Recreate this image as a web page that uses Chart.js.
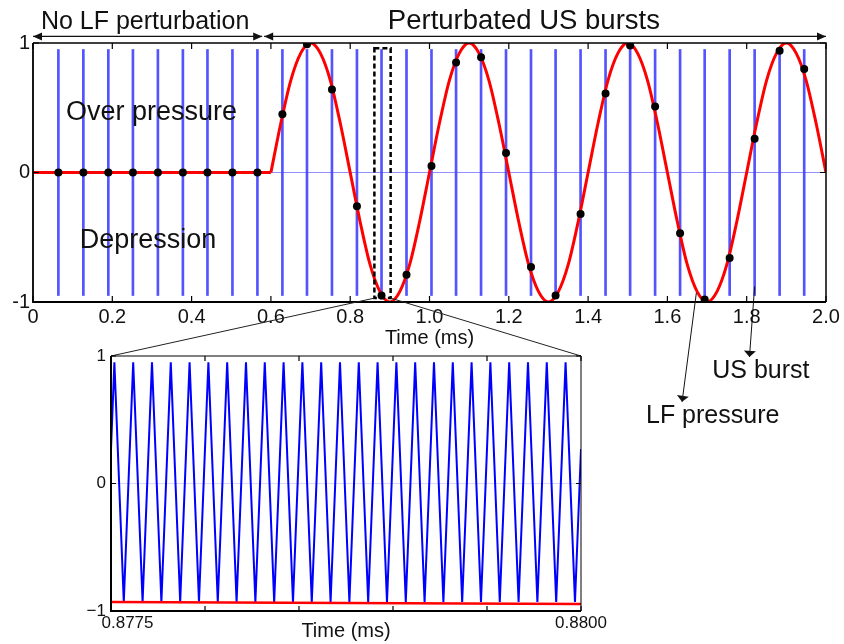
<!DOCTYPE html>
<html>
<head>
<meta charset="utf-8">
<script src="https://cdn.jsdelivr.net/npm/chart.js@4.4.1/dist/chart.umd.min.js"></script>
<style>
  html, body { margin: 0; padding: 0; background: #fff; }
  #wrap { position: relative; width: 844px; height: 644px; overflow: hidden; }
  #main { position: absolute; left: 0; top: 0; }
  #inset { position: absolute; left: 60px; top: 340px; }
</style>
</head>
<body>
<div id="wrap">
  <canvas id="main" width="844" height="644"></canvas>
  <canvas id="inset" width="570" height="304"></canvas>
</div>
<script>
// US burst instants (ms) and the LF pressure each burst sees
const burstTimes = [0.064, 0.127, 0.190, 0.252, 0.315, 0.378, 0.440, 0.503, 0.566,
  0.629, 0.691, 0.754, 0.817, 0.879, 0.942, 1.005, 1.067, 1.130, 1.193, 1.256,
  1.318, 1.381, 1.444, 1.506, 1.569, 1.632, 1.694, 1.757, 1.820, 1.883, 1.945];
const burstLevels = [0, 0, 0, 0, 0, 0, 0, 0, 0,
  0.45, 0.99, 0.64, -0.26, -0.95, -0.79, 0.05, 0.85, 0.89, 0.15, -0.73,
  -0.95, -0.32, 0.61, 0.98, 0.51, -0.47, -0.98, -0.66, 0.26, 0.94, 0.80];
const burstSpan = [-0.95, 0.95];

// LF pressure wave (ms, normalised)
const lfTime = [0, 0.6, 0.625, 0.65, 0.675, 0.7, 0.725, 0.75, 0.775, 0.8, 0.825, 0.85, 0.875,
  0.9, 0.925, 0.95, 0.975, 1.0, 1.025, 1.05, 1.075, 1.1, 1.125, 1.15, 1.175, 1.2, 1.225,
  1.25, 1.275, 1.3, 1.325, 1.35, 1.375, 1.4, 1.425, 1.45, 1.475, 1.5, 1.525, 1.55, 1.575,
  1.6, 1.625, 1.65, 1.675, 1.7, 1.725, 1.75, 1.775, 1.8, 1.825, 1.85, 1.875, 1.9, 1.925,
  1.95, 1.975, 2.0];
const lfPressure = [0, 0, 0.38, 0.71, 0.92, 1, 0.92, 0.71, 0.38, 0, -0.38, -0.71, -0.92,
  -1, -0.92, -0.71, -0.38, 0, 0.38, 0.71, 0.92, 1, 0.92, 0.71, 0.38, 0, -0.38,
  -0.71, -0.92, -1, -0.92, -0.71, -0.38, 0, 0.38, 0.71, 0.92, 1, 0.92, 0.71, 0.38,
  0, -0.38, -0.71, -0.92, -1, -0.92, -0.71, -0.38, 0, 0.38, 0.71, 0.92, 1, 0.92,
  0.71, 0.38, 0];

const mainXLabels = ['0', '0.2', '0.4', '0.6', '0.8', '1.0', '1.2', '1.4', '1.6', '1.8', '2.0'];
const mainYLabels = ['-1', '0', '1'];

// zoom on one burst: time in µs after 0.8775 ms
const insetTime = [0, 0.018, 0.068, 0.118, 0.168, 0.218, 0.268, 0.318, 0.368, 0.418, 0.468,
  0.518, 0.568, 0.618, 0.668, 0.718, 0.768, 0.818, 0.868, 0.918, 0.968, 1.018, 1.068,
  1.118, 1.168, 1.218, 1.268, 1.318, 1.368, 1.418, 1.468, 1.518, 1.568, 1.618, 1.668,
  1.718, 1.768, 1.818, 1.868, 1.918, 1.968, 2.018, 2.068, 2.118, 2.168, 2.218, 2.268,
  2.318, 2.368, 2.418, 2.468, 2.5];
const insetSignal = [0.27, 0.95, -0.93, 0.95, -0.93, 0.95, -0.93, 0.95, -0.93, 0.95, -0.93,
  0.95, -0.93, 0.95, -0.93, 0.95, -0.93, 0.95, -0.93, 0.95, -0.93, 0.95, -0.93,
  0.95, -0.93, 0.95, -0.93, 0.95, -0.93, 0.95, -0.93, 0.95, -0.93, 0.95, -0.93,
  0.95, -0.93, 0.95, -0.93, 0.95, -0.93, 0.95, -0.93, 0.95, -0.93, 0.95, -0.93,
  0.95, -0.93, 0.95, -0.93, 0.27];
const insetLF = [-0.93, -0.945];
const insetXLabels = ['       0.8775', '0.8800'];
const insetYLabels = ['\u22121', '0', '1'];

const FONT = '"Liberation Sans", Arial, sans-serif';
Chart.defaults.font.family = FONT;
Chart.defaults.color = '#111';

const toXY = (xs, ys) => xs.map((x, i) => ({ x, y: ys[i] }));

// box round the plot, ticks pointing inwards (matlab look)
const frame = {
  id: 'frame',
  afterDatasetsDraw(chart, args, opts) {
    const { ctx, chartArea: a, scales: { x, y } } = chart;
    const len = opts.tick || 6;
    ctx.save();
    ctx.strokeStyle = '#000';
    ctx.lineWidth = opts.thin || 1.5;
    ctx.beginPath();
    ctx.moveTo(a.left, a.top); ctx.lineTo(a.right, a.top); ctx.lineTo(a.right, a.bottom);
    ctx.stroke();
    ctx.lineWidth = opts.thick || 1.5;
    ctx.beginPath();
    ctx.moveTo(a.left, a.top); ctx.lineTo(a.left, a.bottom); ctx.lineTo(a.right, a.bottom);
    ctx.stroke();
    ctx.lineWidth = 1.2;
    ctx.beginPath();
    x.ticks.forEach(t => {
      const p = x.getPixelForValue(t.value);
      ctx.moveTo(p, a.bottom); ctx.lineTo(p, a.bottom - len);
      ctx.moveTo(p, a.top); ctx.lineTo(p, a.top + len);
    });
    y.ticks.forEach(t => {
      const p = y.getPixelForValue(t.value);
      ctx.moveTo(a.left, p); ctx.lineTo(a.left + len, p);
      ctx.moveTo(a.right, p); ctx.lineTo(a.right - len, p);
    });
    ctx.stroke();
    ctx.restore();
  }
};

function arrowHead(ctx, x0, y0, x1, y1, len, half) {
  const ang = Math.atan2(y1 - y0, x1 - x0);
  ctx.beginPath();
  ctx.moveTo(x1, y1);
  ctx.lineTo(x1 - len * Math.cos(ang) + half * Math.sin(ang), y1 - len * Math.sin(ang) - half * Math.cos(ang));
  ctx.lineTo(x1 - len * Math.cos(ang) - half * Math.sin(ang), y1 - len * Math.sin(ang) + half * Math.cos(ang));
  ctx.closePath();
  ctx.fill();
}

const insetChart = new Chart(document.getElementById('inset'), {
  type: 'line',
  data: {
    datasets: [
      { data: toXY([insetTime[0], insetTime[insetTime.length - 1]], insetLF),
        borderColor: '#ff0000', borderWidth: 2.5, pointRadius: 0 },
      { data: toXY(insetTime, insetSignal), borderColor: '#0000ff', borderWidth: 2,
        pointRadius: 0, tension: 0 },
      { data: toXY([insetTime[0], insetTime[insetTime.length - 1]], [0, 0]),
        borderColor: 'rgba(60,60,255,0.2)', borderWidth: 1, pointRadius: 0 }
    ]
  },
  options: {
    responsive: false,
    animation: false,
    events: [],
    layout: { padding: { top: 16, right: 49, bottom: 1, left: 0 } },
    plugins: { legend: { display: false }, tooltip: { enabled: false },
      frame: { thin: 1, thick: 2, tick: 5 } },
    scales: {
      x: {
        type: 'linear', min: 0, max: 2.5, offset: false,
        grid: { display: false, drawTicks: false }, border: { display: false },
        ticks: { stepSize: 0.5, autoSkip: false, maxRotation: 0, padding: 2, font: { size: 17 },
          callback: (v, i, t) => i === 0 ? insetXLabels[0] : (i === t.length - 1 ? insetXLabels[1] : '') },
        title: { display: true, text: 'Time (ms)', font: { size: 20 }, padding: { top: 0, bottom: 0 } },
        afterFit: s => { s.height = 32; }
      },
      y: {
        min: -1, max: 1,
        grid: { display: false, drawTicks: false }, border: { display: false },
        ticks: { stepSize: 1, padding: 5, font: { size: 17 }, callback: (v, i) => insetYLabels[i] },
        afterFit: s => { s.width = 51; }
      }
    }
  },
  plugins: [frame]
});

// text and pointers laid on the main plot, in data units
const regionArrows = [[0, 0.578], [0.583, 2.0]];
const arrowLevel = 1.051;
const notes = [
  { text: 'No LF perturbation', t: 0.02, v: 1.105, size: 25 },
  { text: 'Perturbated US bursts', t: 0.895, v: 1.105, size: 27.5 },
  { text: 'Over pressure', t: 0.083, v: 0.409, size: 27 },
  { text: 'Depression', t: 0.118, v: -0.586, size: 27 },
  { text: 'LF pressure', t: 1.546, v: -1.936, size: 25 },
  { text: 'US burst', t: 1.713, v: -1.584, size: 25 }
];
const pointers = [
  { from: [1.673, -0.93], to: [1.637, -1.771] },
  { from: [1.820, -0.88], to: [1.807, -1.424] }
];
const zoomBox = { t0: 0.861, t1: 0.902, v0: -0.97, v1: 0.96 };

const overlay = {
  id: 'overlay',
  afterDraw(chart) {
    const { ctx, scales: { x, y } } = chart;
    const px = t => x.getPixelForValue(t);
    const py = v => y.getPixelForValue(v);
    ctx.save();
    ctx.fillStyle = '#111';
    ctx.strokeStyle = '#111';
    ctx.lineWidth = 1.2;

    regionArrows.forEach(([a, b]) => {
      const yy = py(arrowLevel);
      ctx.beginPath(); ctx.moveTo(px(a), yy); ctx.lineTo(px(b), yy); ctx.stroke();
      arrowHead(ctx, px(b), yy, px(a), yy, 9, 4);
      arrowHead(ctx, px(a), yy, px(b), yy, 9, 4);
    });

    ctx.textBaseline = 'alphabetic';
    ctx.textAlign = 'left';
    notes.forEach(n => {
      ctx.font = n.size + 'px ' + FONT;
      ctx.fillText(n.text, px(n.t), py(n.v));
    });

    ctx.lineWidth = 1;
    pointers.forEach(p => {
      const x0 = px(p.from[0]), y0 = py(p.from[1]), x1 = px(p.to[0]), y1 = py(p.to[1]);
      ctx.beginPath(); ctx.moveTo(x0, y0); ctx.lineTo(x1, y1); ctx.stroke();
      arrowHead(ctx, x0, y0, x1, y1, 6, 6);
    });

    // dashed box round the zoomed burst
    const bl = px(zoomBox.t0), br = px(zoomBox.t1), bt = py(zoomBox.v1), bb = py(zoomBox.v0);
    ctx.strokeStyle = '#000';
    ctx.lineWidth = 2.5;
    ctx.setLineDash([5, 3]);
    ctx.strokeRect(bl, bt, br - bl, bb - bt);
    ctx.setLineDash([]);

    // lines down to the inset
    const ia = insetChart.chartArea;
    const ox = insetChart.canvas.offsetLeft, oy = insetChart.canvas.offsetTop;
    ctx.lineWidth = 1;
    ctx.strokeStyle = '#222';
    ctx.beginPath();
    ctx.moveTo(bl, bb); ctx.lineTo(ox + ia.left, oy + ia.top);
    ctx.moveTo(br, bb); ctx.lineTo(ox + ia.right, oy + ia.top);
    ctx.stroke();
    ctx.restore();
  }
};

new Chart(document.getElementById('main'), {
  type: 'line',
  data: {
    datasets: [
      { type: 'scatter', data: toXY(burstTimes, burstLevels), pointRadius: 4,
        pointBackgroundColor: '#000', pointBorderWidth: 0, order: 0 },
      { data: toXY(lfTime.slice(0, 2), lfPressure.slice(0, 2)), borderColor: '#ff0000',
        borderWidth: 3, pointRadius: 0, order: 1 },
      { data: toXY(lfTime.slice(1), lfPressure.slice(1)), borderColor: '#ff0000',
        borderWidth: 3, pointRadius: 0, cubicInterpolationMode: 'monotone', order: 1 },
      { data: toXY([0, 2], [0, 0]), borderColor: 'rgba(70,70,255,0.6)', borderWidth: 1,
        pointRadius: 0, order: 2 },
      { type: 'bar', data: burstTimes.map(t => ({ x: t, y: burstSpan })),
        backgroundColor: 'rgba(40,40,255,0.8)', barThickness: 2, order: 3 }
    ]
  },
  options: {
    responsive: false,
    animation: false,
    events: [],
    layout: { padding: { top: 43, right: 18, bottom: 292, left: 0 } },
    plugins: { legend: { display: false }, tooltip: { enabled: false },
      frame: { thin: 1.5, thick: 1.8, tick: 6 } },
    scales: {
      x: {
        type: 'linear', min: 0, max: 2, offset: false,
        grid: { display: false, drawTicks: false }, border: { display: false },
        ticks: { stepSize: 0.2, autoSkip: false, maxRotation: 0, padding: 3, font: { size: 20 },
          callback: (v, i) => mainXLabels[i] },
        title: { display: true, text: 'Time (ms)', font: { size: 20 }, padding: { top: 0, bottom: 2 } },
        afterFit: s => { s.height = 50; }
      },
      y: {
        min: -1, max: 1,
        grid: { display: false, drawTicks: false }, border: { display: false },
        ticks: { stepSize: 1, padding: 3, font: { size: 20 }, callback: (v, i) => mainYLabels[i] },
        afterFit: s => { s.width = 33; }
      }
    }
  },
  plugins: [frame, overlay]
});
</script>
</body>
</html>
